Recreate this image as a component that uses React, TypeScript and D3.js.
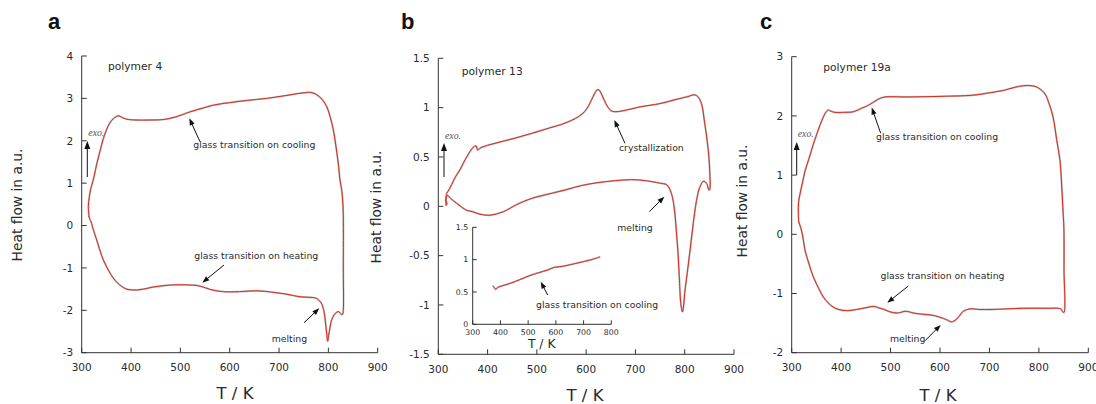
import React from "react";
import * as d3 from "d3";

// ---------- data ----------
const X_TICKS = [300, 400, 500, 600, 700, 800, 900];
const Y_TICKS_A = [-3, -2, -1, 0, 1, 2, 3, 4];
const Y_TICKS_B = [-1.5, -1, -0.5, 0, 0.5, 1, 1.5];
const Y_TICKS_C = [-2, -1, 0, 1, 2, 3];
const INSET_X_TICKS = [300, 400, 500, 600, 700, 800];
const INSET_Y_TICKS = [0, 0.5, 1, 1.5];

// polymer 4 : closed DSC loop (T / K, heat flow)
const LOOP_A: [number, number][] = [
  [314.8, 0.21], [313.5, 0.45], [315.5, 0.68], [318, 0.85], [320.3, 0.95], [325, 1.15],
  [330.4, 1.45], [337, 1.75], [343.8, 2.05], [350, 2.25], [357, 2.42], [364, 2.52],
  [370, 2.57], [375, 2.59], [382, 2.55], [391, 2.51], [410, 2.49], [440, 2.49],
  [465, 2.5], [490, 2.56], [519, 2.68], [545, 2.77], [567, 2.84], [600, 2.9],
  [634, 2.95], [675, 3.0], [710, 3.06], [749, 3.13], [765, 3.14], [776, 3.09],
  [787, 2.98], [797, 2.8], [804, 2.55], [810, 2.26], [815, 1.9], [820, 1.47],
  [823.6, 1.07], [827, 0.84], [829.5, 0.5], [830.3, 0.2], [830.3, -1.0], [830.3, -2.0],
  [829, -2.09], [827, -2.1], [823, -2.05], [820, -2.03], [815, -2.06], [810, -2.14],
  [806, -2.25], [803.4, -2.4], [800.5, -2.6], [798.6, -2.73], [797, -2.6], [795, -2.38],
  [793, -2.16], [791, -2.02], [787, -1.86], [783, -1.79], [776, -1.72], [769.5, -1.7],
  [742.5, -1.68], [715.6, -1.62], [685, -1.57], [654.7, -1.54], [620, -1.56], [587, -1.56],
  [565, -1.52], [553.4, -1.48], [540, -1.43], [529.7, -1.41], [510, -1.4], [485.7, -1.4],
  [465, -1.42], [445, -1.45], [425, -1.5], [411.5, -1.52], [391, -1.5], [377, -1.4],
  [364, -1.24], [354, -1.05], [343.8, -0.81], [336, -0.55], [330.4, -0.34], [323.6, -0.1],
  [318.9, 0.09], [316.8, 0.14], [314.8, 0.21],
];

// polymer 13 : closed DSC loop
const LOOP_B: [number, number][] = [
  [315, 0.06], [317, 0.13], [322, 0.17], [327, 0.22], [335, 0.3], [344, 0.37],
  [350, 0.43], [360, 0.52], [367.7, 0.58], [374, 0.61], [377, 0.61], [380, 0.57],
  [385, 0.59], [394.7, 0.61], [420, 0.645], [455, 0.69], [490, 0.74], [523, 0.79],
  [550, 0.83], [570, 0.87], [585, 0.91], [597, 0.96], [605, 1.02], [611, 1.08],
  [617, 1.14], [622, 1.18], [626, 1.18], [630, 1.15], [634.5, 1.1], [640, 1.04],
  [645, 1.0], [650, 0.97], [656, 0.96], [665, 0.96], [690, 0.985], [712, 1.01],
  [749.4, 1.04], [780, 1.08], [805, 1.11], [820, 1.13], [827, 1.11], [834, 1.04],
  [840.6, 0.84], [845.4, 0.67], [849, 0.5], [850.8, 0.35], [850.8, 0.17], [849, 0.165],
  [845.6, 0.22], [841, 0.25], [836.7, 0.25], [832, 0.21], [828.6, 0.165], [824, 0.06],
  [820, -0.07], [815, -0.27], [810, -0.48], [805, -0.68], [800, -0.88], [797.5, -1.02],
  [795.4, -1.07], [793, -1.02], [791.4, -0.95], [789, -0.72], [786.5, -0.48], [783, -0.25],
  [780, -0.07], [776.4, 0.06], [773, 0.13], [768, 0.19], [763, 0.22], [749.4, 0.235],
  [720, 0.26], [692, 0.27], [660, 0.26], [624, 0.24], [590, 0.21], [557, 0.165],
  [520, 0.12], [489.4, 0.08], [460, 0.02], [431.8, -0.055], [404.8, -0.09], [384.5, -0.08],
  [370, -0.055], [357.6, -0.04], [337.3, 0.03], [325, 0.08], [319, 0.11], [317, 0.1],
  [315.5, 0.05], [316, 0.01], [317.5, 0.03], [315, 0.06],
];

// polymer 13 inset : glass transition on cooling
const INSET_B: [number, number][] = [
  [374, 0.59], [379, 0.56], [383, 0.54], [390, 0.57], [410, 0.6], [440, 0.64],
  [470, 0.69], [510, 0.76], [540, 0.8], [570, 0.84], [594, 0.88], [614, 0.89],
  [640, 0.91], [670, 0.94], [690, 0.96], [720, 0.99], [758, 1.04],
];

// polymer 19a : closed DSC loop
const LOOP_C: [number, number][] = [
  [314.4, 0.2], [313.4, 0.35], [314, 0.55], [316.8, 0.68], [322, 0.88], [327, 1.07],
  [335, 1.28], [343, 1.5], [350.6, 1.69], [358, 1.86], [364, 1.98], [369, 2.06],
  [374, 2.1], [379, 2.08], [387.6, 2.06], [405, 2.06], [424.6, 2.07], [441.6, 2.13],
  [455, 2.18], [465, 2.23], [477, 2.29], [488.8, 2.32], [532.6, 2.32], [600, 2.33],
  [667, 2.35], [700, 2.39], [728, 2.43], [750, 2.48], [768.5, 2.51], [792, 2.5],
  [803, 2.45], [812.5, 2.37], [821, 2.2], [829, 1.97], [836, 1.6], [842.8, 1.24],
  [846, 0.85], [848.5, 0.45], [850.6, 0.1], [850.9, -0.6], [850.9, -1.32], [848.3, -1.31],
  [844, -1.26], [815.9, -1.25], [768.5, -1.25], [735, -1.26], [701, -1.27], [680, -1.27],
  [660.7, -1.26], [647, -1.3], [640, -1.37], [633.8, -1.43], [627, -1.47], [623.7, -1.48],
  [615, -1.45], [606.7, -1.42], [586.5, -1.37], [565, -1.35], [546, -1.33], [538, -1.31],
  [529.2, -1.3], [520, -1.32], [512.4, -1.33], [498.9, -1.31], [487, -1.27], [475, -1.24],
  [468, -1.22], [461.8, -1.22], [450, -1.24], [431.5, -1.27], [411, -1.29], [395, -1.27],
  [384, -1.23], [374, -1.16], [364, -1.06], [355, -0.92], [343.8, -0.72], [335, -0.5],
  [327, -0.27], [322, -0.02], [318, 0.12], [314.4, 0.2],
];

// ---------- drawing ----------
const FONT = "'DejaVu Sans', Verdana, sans-serif";
const AXIS = "#333";
const TXT = "#2a2a2a";
const RED = "#dc2a1c";
const GRAY = "#bdbdbd";

type Note = { text: string; x: number; y: number; ax: number; ay: number; bx: number; by: number };

type PanelProps = {
  letter: string;
  name: string;
  loop: [number, number][];
  yTicks: number[];
  x0: number; x1: number; yTop: number; yBot: number;
  letterX: number;
  nameX: number; nameY: number;
  yLabelX: number; yLabelY: number;
  xLabelX: number; xLabelY: number;
  exoX: number; exoTop: number; exoBot: number; exoTextY: number;
  notes: Note[];
  children?: React.ReactNode;
};

function Curve({ loop, x, y }: { loop: [number, number][]; x: any; y: any }) {
  const gen = d3
    .line<[number, number]>()
    .x((d) => x(d[0]))
    .y((d) => y(d[1]))
    .curve(d3.curveCatmullRom.alpha(0.5));
  const d = gen(loop) || "";
  return (
    <g fill="none" strokeLinejoin="round" strokeLinecap="round">
      <path d={d} stroke={GRAY} strokeWidth={1.9} />
      <path d={d} stroke={RED} strokeWidth={1.0} />
    </g>
  );
}

function Arrow({ ax, ay, bx, by }: { ax: number; ay: number; bx: number; by: number }) {
  const ang = Math.atan2(by - ay, bx - ax);
  const L = 7;
  const W = 2.6;
  const hx = bx - L * Math.cos(ang);
  const hy = by - L * Math.sin(ang);
  const px = -Math.sin(ang) * W;
  const py = Math.cos(ang) * W;
  return (
    <g>
      <line x1={ax} y1={ay} x2={hx + Math.cos(ang)} y2={hy + Math.sin(ang)} stroke="#111" strokeWidth={1} />
      <path d={`M${bx},${by} L${hx + px},${hy + py} L${hx - px},${hy - py} Z`} fill="#111" />
    </g>
  );
}

function Panel(p: PanelProps) {
  const x = d3.scaleLinear().domain([300, 900]).range([p.x0, p.x1]);
  const yDom = d3.extent(p.yTicks) as [number, number];
  const y = d3.scaleLinear().domain(yDom).range([p.yBot, p.yTop]);
  return (
    <g>
      <text x={p.letterX} y={29} fontFamily="'Liberation Sans', Arial, sans-serif" fontWeight="bold" fontSize={22} fill="#111">
        {p.letter}
      </text>
      <line x1={p.x0} x2={p.x0} y1={p.yTop} y2={p.yBot} stroke={AXIS} strokeWidth={1} />
      <line x1={p.x0} x2={p.x1} y1={p.yBot} y2={p.yBot} stroke={AXIS} strokeWidth={1} />
      {X_TICKS.map((t) => (
        <g key={"xt" + t}>
          <line x1={x(t)} x2={x(t)} y1={p.yBot} y2={p.yBot - 5} stroke={AXIS} />
          <text x={x(t)} y={p.yBot + 18.5} textAnchor="middle" fontFamily={FONT} fontSize={10.5} fill={TXT}>
            {t}
          </text>
        </g>
      ))}
      {p.yTicks.map((t) => (
        <g key={"yt" + t}>
          <line x1={p.x0} x2={p.x0 + 5} y1={y(t)} y2={y(t)} stroke={AXIS} />
          <text x={p.x0 - 8.5} y={y(t)} dy="0.36em" textAnchor="end" fontFamily={FONT} fontSize={10.5} fill={TXT}>
            {String(t)}
          </text>
        </g>
      ))}
      <text
        transform={`translate(${p.yLabelX},${p.yLabelY}) rotate(-90)`}
        textAnchor="middle"
        dy="0.36em"
        fontFamily={FONT}
        fontSize={13.8}
        fill={TXT}
      >
        Heat flow in a.u.
      </text>
      <text x={p.xLabelX} y={p.xLabelY} textAnchor="middle" fontFamily={FONT} fontSize={16.5} fill={TXT}>
        T / K
      </text>
      <text x={p.nameX} y={p.nameY} fontFamily={FONT} fontSize={10.7} fill={TXT}>
        {p.name}
      </text>
      <line x1={p.exoX} x2={p.exoX} y1={p.exoBot} y2={p.exoTop + 6} stroke="#111" strokeWidth={1} />
      <path d={`M${p.exoX},${p.exoTop} L${p.exoX - 3},${p.exoTop + 8} L${p.exoX + 3},${p.exoTop + 8} Z`} fill="#111" />
      <text x={p.exoX + 1} y={p.exoTextY} fontFamily="'Liberation Serif', 'Times New Roman', serif" fontStyle="italic" fontSize={9.8} fill="#555">
        exo.
      </text>
      <Curve loop={p.loop} x={x} y={y} />
      {p.notes.map((n, i) => (
        <g key={"n" + i}>
          <text x={n.x} y={n.y} fontFamily={FONT} fontSize={9.3} fill={TXT}>
            {n.text}
          </text>
          <Arrow ax={n.ax} ay={n.ay} bx={n.bx} by={n.by} />
        </g>
      ))}
      {p.children}
    </g>
  );
}

function Inset() {
  const x = d3.scaleLinear().domain([300, 800]).range([472.7, 611.3]);
  const y = d3.scaleLinear().domain([0, 1.5]).range([324.3, 227.3]);
  return (
    <g>
      <line x1={x(300)} x2={x(300)} y1={y(1.5)} y2={y(0)} stroke={AXIS} />
      <line x1={x(300)} x2={x(800)} y1={y(0)} y2={y(0)} stroke={AXIS} />
      {INSET_X_TICKS.map((t) => (
        <g key={"ix" + t}>
          <line x1={x(t)} x2={x(t)} y1={y(0)} y2={y(0) - 4} stroke={AXIS} />
          <text x={x(t)} y={y(0) + 11} textAnchor="middle" fontFamily={FONT} fontSize={7.8} fill={TXT}>
            {t}
          </text>
        </g>
      ))}
      {INSET_Y_TICKS.map((t) => (
        <g key={"iy" + t}>
          <line x1={x(300)} x2={x(300) + 4} y1={y(t)} y2={y(t)} stroke={AXIS} />
          <text x={x(300) - 4.5} y={y(t)} dy="0.36em" textAnchor="end" fontFamily={FONT} fontSize={7.8} fill={TXT}>
            {String(t)}
          </text>
        </g>
      ))}
      <text x={541.7} y={347.5} textAnchor="middle" fontFamily={FONT} fontSize={12.3} fill={TXT}>
        T / K
      </text>
      <Curve loop={INSET_B} x={x} y={y} />
      <text x={536} y={307.5} fontFamily={FONT} fontSize={9.3} fill={TXT}>
        glass transition on cooling
      </text>
      <Arrow ax={547.7} ay={295} bx={540.7} by={281.7} />
    </g>
  );
}

export default function App() {
  return (
    <svg width={1096} height={404} style={{ display: "block", position: "absolute", left: 0, top: 0, background: "#fff" }}>
      <rect width={1096} height={404} fill="#fff" />
      <Panel
        letter="a"
        name="polymer 4"
        loop={LOOP_A}
        yTicks={Y_TICKS_A}
        x0={81.7} x1={377.7} yTop={56} yBot={352.7}
        letterX={48}
        nameX={108} nameY={70}
        yLabelX={17.5} yLabelY={205}
        xLabelX={235} xLabelY={399}
        exoX={87.3} exoTop={141} exoBot={177} exoTextY={136}
        notes={[
          { text: "glass transition on cooling", x: 193.3, y: 148, ax: 200, ay: 141.7, bx: 189.3, by: 118.3 },
          { text: "glass transition on heating", x: 194.3, y: 259.3, ax: 224, ay: 265, bx: 202.3, by: 282.7 },
          { text: "melting", x: 271.7, y: 341.7, ax: 304, ay: 322.7, bx: 319.3, by: 308.3 },
        ]}
      />
      <Panel
        letter="b"
        name="polymer 13"
        loop={LOOP_B}
        yTicks={Y_TICKS_B}
        x0={438.3} x1={734} yTop={58.3} yBot={354.3}
        letterX={401}
        nameX={461.7} nameY={75}
        yLabelX={376} yLabelY={207}
        xLabelX={585} xLabelY={401}
        exoX={444} exoTop={143} exoBot={177} exoTextY={138.5}
        notes={[
          { text: "crystallization", x: 619, y: 150.7, ax: 625, ay: 143.3, bx: 614.3, by: 120 },
          { text: "melting", x: 617.3, y: 230.7, ax: 649.3, ay: 211.7, bx: 664.3, by: 196.7 },
        ]}
      >
        <Inset />
      </Panel>
      <Panel
        letter="c"
        name="polymer 19a"
        loop={LOOP_C}
        yTicks={Y_TICKS_C}
        x0={791.7} x1={1088.3} yTop={56.7} yBot={352.7}
        letterX={760}
        nameX={823.3} nameY={70.7}
        yLabelX={742.3} yLabelY={201}
        xLabelX={938} xLabelY={401}
        exoX={796.7} exoTop={142} exoBot={175} exoTextY={136.5}
        notes={[
          { text: "glass transition on cooling", x: 876, y: 140, ax: 880.7, ay: 133.3, bx: 871.7, by: 107.5 },
          { text: "glass transition on heating", x: 880.5, y: 279.3, ax: 908.3, ay: 286, bx: 887.3, by: 302.7 },
          { text: "melting", x: 890, y: 341.7, ax: 925, ay: 340.7, bx: 940.7, by: 325 },
        ]}
      />
    </svg>
  );
}
